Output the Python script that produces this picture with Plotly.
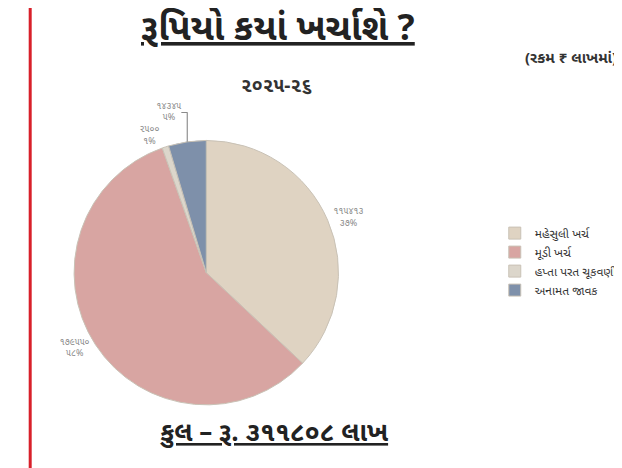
import plotly.graph_objects as go

categories = ["મહેસુલી ખર્ચ", "મૂડી ખર્ચ", "હપ્તા પરત ચૂકવણી", "અનામત જાવક"]
values = [115413, 179550, 2500, 14345]
pct_labels = ["૩૭%", "૫૮%", "૧%", "૫%"]
colors = ["#DFD3C2", "#D8A5A2", "#DCD6CB", "#7E90AA"]

GU = str.maketrans("0123456789", "૦૧૨૩૪૫૬૭૮૯")
text_labels = [f"{str(v).translate(GU)}<br>{p}" for v, p in zip(values, pct_labels)]
total_text = str(sum(values)).translate(GU)

FONT = "Noto Sans Gujarati, Noto Sans, Lohit Gujarati, sans-serif"

fig = go.Figure(go.Pie(
    labels=categories,
    values=values,
    text=text_labels,
    textinfo="text",
    textposition="outside",
    textfont=dict(size=9, color="#8a8a8a", family=FONT),
    marker=dict(colors=colors, line=dict(color="#c9c2b6", width=1)),
    sort=False,
    direction="clockwise",
    rotation=0,
    hole=0,
    domain=dict(x=[0.035, 0.555], y=[0.152, 0.717]),
))

fig.update_layout(
    width=622, height=468,
    margin=dict(l=0, r=0, t=0, b=0),
    paper_bgcolor="white",
    plot_bgcolor="white",
    font=dict(family=FONT),
    showlegend=True,
    legend=dict(x=0.775, y=0.55, xanchor="left", yanchor="top",
                font=dict(size=12, color="#333", family=FONT),
                itemwidth=30, tracegroupgap=0),
    shapes=[dict(type="line", xref="paper", yref="paper", x0=0.002, x1=0.002, y0=0, y1=1,
                 line=dict(color="#d8202a", width=3))],
    annotations=[
        dict(text="<b><u>રૂપિયો કયાં ખર્ચાશે ?</u></b>", x=0.415, y=0.952, xref="paper", yref="paper",
             xanchor="center", yanchor="middle",
             showarrow=False, font=dict(size=36, color="#222", family=FONT)),
        dict(text="<b>૨૦૨૫-૨૬</b>", x=0.412, y=0.83, xref="paper", yref="paper",
             xanchor="center", yanchor="middle",
             showarrow=False, font=dict(size=19, color="#333", family=FONT)),
        dict(text="<b>(રકમ ₹ લાખમાં)</b>", x=0.902, y=0.89, xref="paper", yref="paper",
             xanchor="center", yanchor="middle",
             showarrow=False, font=dict(size=15, color="#333", family=FONT)),
        dict(text=f"<b><u>કુલ – રૂ. {total_text} લાખ</u></b>", x=0.407, y=0.088, xref="paper", yref="paper",
             xanchor="center", yanchor="middle",
             showarrow=False, font=dict(size=26, color="#222", family=FONT)),
    ],
)

fig.write_html("out.html")
